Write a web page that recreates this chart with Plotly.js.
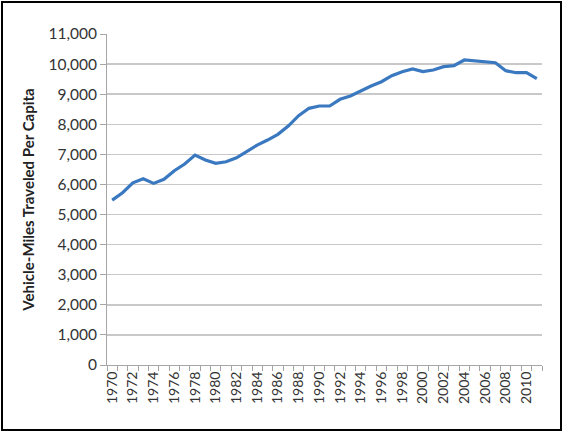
<!DOCTYPE html>
<html>
<head>
<meta charset="utf-8">
<script src="https://cdn.plot.ly/plotly-3.0.1.min.js"></script>
<style>
  html, body { margin: 0; padding: 0; background: #fff; }
  #wrap { position: relative; width: 563px; height: 434px; }
  #chart { width: 563px; height: 434px; }
  #frame { position: absolute; left: 1px; top: 1px; width: 557px; height: 426px; border: 2px solid #000; pointer-events: none; }
</style>
</head>
<body>
<div id="wrap">
  <div id="chart"></div>
  <div id="frame"></div>
</div>
<script>
const years = [1970,1971,1972,1973,1974,1975,1976,1977,1978,1979,
               1980,1981,1982,1983,1984,1985,1986,1987,1988,1989,
               1990,1991,1992,1993,1994,1995,1996,1997,1998,1999,
               2000,2001,2002,2003,2004,2005,2006,2007,2008,2009,
               2010,2011];
const vmtPerCapita = [5480,5724,6056,6190,6036,6170,6456,6678,6977,6811,
                      6700,6754,6887,7087,7310,7476,7665,7941,8284,8530,
                      8607,8607,8830,8940,9116,9272,9415,9615,9748,9837,
                      9748,9804,9914,9947,10136,10113,10093,10047,9781,9714,
                      9714,9515];
const labelYears = [1970,1972,1974,1976,1978,1980,1982,1984,1986,1988,1990,
                    1992,1994,1996,1998,2000,2002,2004,2006,2008,2010];
const yTicks = [0,1000,2000,3000,4000,5000,6000,7000,8000,9000,10000,11000];
const yTitle = 'Vehicle-Miles Traveled Per Capita';

const trace = {
  x: years, y: vmtPerCapita, type: 'scatter', mode: 'lines',
  line: { color: '#3a78c0', width: 3.2 }, hoverinfo: 'skip'
};

const layout = {
  width: 563, height: 434,
  margin: { l: 107, r: 21, t: 34, b: 69 },
  paper_bgcolor: '#fff', plot_bgcolor: '#fff',
  showlegend: false,
  font: { family: 'Lato, "Open Sans", sans-serif', color: '#333' },
  xaxis: {
    range: [1969.5, 2011.5],
    tickmode: 'array', tickvals: labelYears, ticktext: labelYears.map(String),
    tickangle: -90, ticks: '', showgrid: false, zeroline: false,
    showline: true, linecolor: '#a6a6a6', linewidth: 1,
    tickfont: { size: 14, color: '#333' },
    minor: { tick0: 1969.5, dtick: 1, ticks: 'outside', ticklen: 5, tickcolor: '#a6a6a6', showgrid: false }
  },
  yaxis: {
    range: [0, 11000],
    tickmode: 'array', tickvals: yTicks,
    ticktext: yTicks.map(v => v.toLocaleString('en-US')),
    ticks: 'outside', ticklen: 6, tickcolor: '#a6a6a6',
    showgrid: true, gridcolor: '#c8c8c8', gridwidth: 1.5,
    zeroline: false, showline: true, linecolor: '#a6a6a6', linewidth: 1,
    tickfont: { size: 15.5, color: '#333' },
    title: { text: '<b>' + yTitle + '</b>', font: { size: 15, color: '#222' }, standoff: 10 }
  }
};

Plotly.newPlot('chart', [trace], layout, { staticPlot: true });
</script>
</body>
</html>
